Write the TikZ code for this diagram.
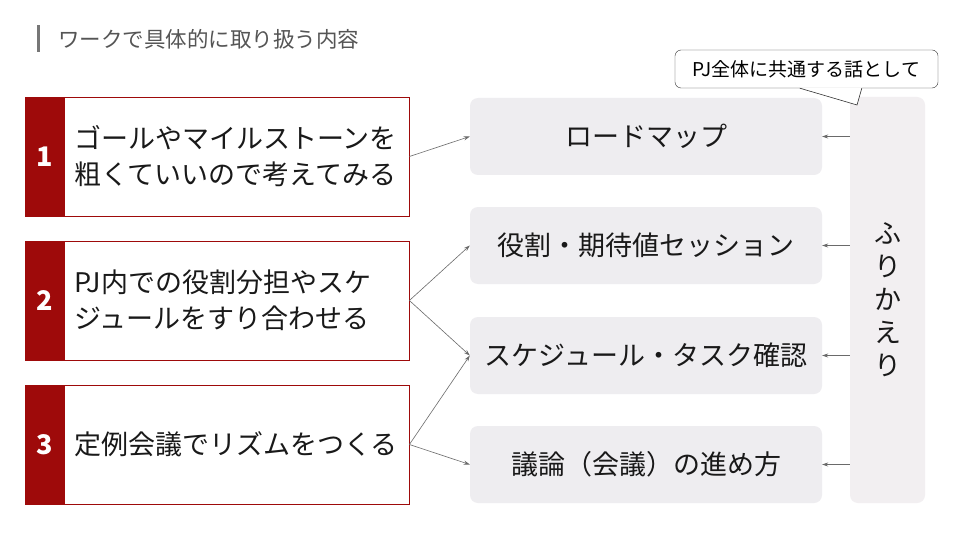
\documentclass[tikz,border=0pt]{standalone}
\usepackage{fontspec}
\setmainfont{Noto Sans CJK JP}
\usetikzlibrary{arrows.meta,positioning,calc}
\definecolor{brick}{HTML}{9E0A0A}
\definecolor{ttl}{HTML}{555555}
\definecolor{pane}{HTML}{EEEDF0}
\definecolor{col}{HTML}{F2EFF1}
\definecolor{lnk}{HTML}{6A6A6A}
\tikzset{
  item/.style={draw=brick,line width=0.8pt,fill=white,minimum width=384pt,minimum height=119pt,inner sep=0pt},
  num/.style={fill=brick,minimum width=40pt,minimum height=119pt,inner sep=0pt,text=white,font=\fontsize{27}{30}\selectfont\bfseries},
  itxt/.style={anchor=west,align=left,inner sep=0pt,font=\fontsize{27}{36}\selectfont,text=black!90},
  tile/.style={fill=pane,rounded corners=8pt,minimum width=352pt,minimum height=77pt,inner sep=0pt,font=\fontsize{27}{30}\selectfont,text=black!90},
  ar/.style={-{Stealth[length=6pt,width=4pt]},draw=lnk,line width=0.6pt},
}
\begin{document}
\begin{tikzpicture}[x=1pt,y=-1pt]
\useasboundingbox[fill=white] (0,0) rectangle (960,540);
% title
\node[fill=ttl!80,minimum width=3.5pt,minimum height=27pt,inner sep=0pt] (bar) at (38.5,39) {};
\node[anchor=west,text=ttl,font=\fontsize{21.5}{24}\selectfont,inner sep=0pt] (title) at (58,39) {ワークで具体的に取り扱う内容};
% left items
\node[item] (item1) at (217,156.5) {};
\node[item] (item2) at (217,300.5) {};
\node[item] (item3) at (217,444.5) {};
\node[num,anchor=west] (n1) at (item1.west) {1};
\node[num,anchor=west] (n2) at (item2.west) {2};
\node[num,anchor=west] (n3) at (item3.west) {3};
\node[itxt] (t1) at (74,156) {ゴールやマイルストーンを\\粗くていいので考えてみる};
\node[itxt] (t2) at (74,300) {PJ内での役割分担やスケ\\ジュールをすり合わせる};
\node[itxt] (t3) at (74,444) {定例会議でリズムをつくる};
% middle tiles
\node[tile] (road) at (646,136.5) {ロードマップ};
\node[tile] (role) at (646,245.5) {役割・期待値セッション};
\node[tile] (sched) at (646,355.5) {スケジュール・タスク確認};
\node[tile] (meet) at (646,464.5) {議論（会議）の進め方};
% review column
\node[fill=col,rounded corners=8pt,minimum width=75pt,minimum height=406pt,inner sep=0pt] (furi) at (887.5,300) {};
\node[align=center,font=\fontsize{27}{33}\selectfont,text=black!90] (furit) at (furi) {ふ\\り\\か\\え\\り};
% callout
\node[draw=black!80,fill=white,rounded corners=6pt,minimum width=263pt,minimum height=38pt,inner sep=0pt,font=\fontsize{19}{22}\selectfont] (note) at (806.5,69) {PJ全体に共通する話として};
\coordinate (tip) at (857,105);
\fill[white] ($(note.south west)+(125,-0.8)$) -- (tip) -- ($(note.south west)+(187,-0.8)$) -- cycle;
\draw[black!80,line width=0.6pt] ($(note.south west)+(125,0)$) -- (tip) -- ($(note.south west)+(187,0)$);
% links
\draw[ar] (item1.east) -- (road.west);
\draw[ar] (item2.east) -- (role.west);
\draw[ar] (item2.east) -- (sched.west);
\draw[ar] (item3.east) -- (sched.west);
\draw[ar] (item3.east) -- (meet.west);
\foreach \t in {road,role,sched,meet}
  \draw[ar] (furi.west |- \t) -- (\t.east);
\end{tikzpicture}
\end{document}
